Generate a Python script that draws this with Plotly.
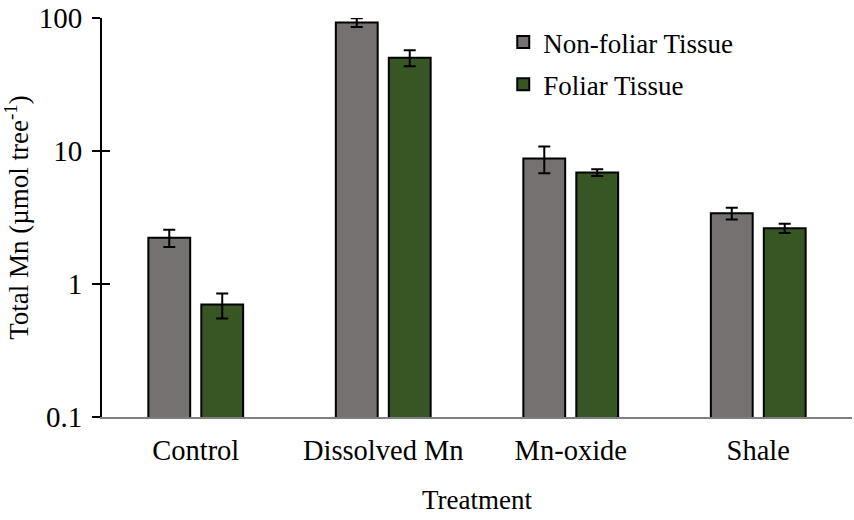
import plotly.graph_objects as go

categories = ["Control", "Dissolved Mn", "Mn-oxide", "Shale"]
nonfoliar = [2.23, 92.7, 8.8, 3.4]
nonfoliar_err = [0.33, 7.0, 2.0, 0.35]
foliar = [0.70, 50.3, 6.9, 2.63]
foliar_err = [0.15, 7.0, 0.4, 0.21]
ytick_vals = [0.1, 1, 10, 100]
ytick_text = ["0.1", "1", "10", "100"]

FONT = "Liberation Serif"
FS = 27
GRAY = "#767171"
GREEN = "#375623"

fig = go.Figure()
fig.add_trace(go.Bar(
    name="Non-foliar Tissue", x=categories, y=nonfoliar, legendgroup="a",
    marker=dict(color=GRAY, line=dict(color="black", width=2)),
    error_y=dict(type="data", array=nonfoliar_err, color="black", thickness=2, width=6),
))
fig.add_trace(go.Bar(
    name="Foliar Tissue", x=categories, y=foliar, legendgroup="b",
    marker=dict(color=GREEN, line=dict(color="black", width=2)),
    error_y=dict(type="data", array=foliar_err, color="black", thickness=2, width=6),
))
# invisible trace for inside ticks (crossing tick marks)
fig.add_trace(go.Scatter(x=categories, y=nonfoliar, yaxis="y2", mode="markers",
                         marker=dict(opacity=0), showlegend=False, hoverinfo="skip"))

fig.update_layout(
    width=854, height=520,
    margin=dict(l=102, r=2, t=18, b=103),
    paper_bgcolor="white", plot_bgcolor="white",
    font=dict(family=FONT, size=FS, color="black"),
    barmode="group", bargap=0.435, bargroupgap=0.21,
    legend=dict(x=0.535, y=1.0, xanchor="left", yanchor="top",
                bgcolor="rgba(0,0,0,0)", font=dict(family=FONT, size=FS),
                itemwidth=30, tracegroupgap=4),
    xaxis=dict(
        showline=True, linecolor="#7f7f7f", linewidth=2, ticks="",
        tickfont=dict(family=FONT, size=28.5), ticklabelstandoff=7,
        title=dict(text="Treatment", font=dict(family=FONT, size=FS), standoff=25),
        showgrid=False, zeroline=False,
    ),
    yaxis=dict(
        type="log", range=[-1, 2], showline=True, linecolor="black", linewidth=2,
        ticks="outside", ticklen=8, tickwidth=2, tickcolor="black",
        tickvals=ytick_vals, ticktext=ytick_text, ticklabelstandoff=4,
        tickfont=dict(family=FONT, size=29),
        title=dict(text="Total Mn (µmol tree<sup>-1</sup>)", font=dict(family=FONT, size=FS), standoff=8),
        showgrid=False, zeroline=False,
    ),
    yaxis2=dict(
        type="log", range=[-1, 2], overlaying="y", side="left", anchor="x",
        ticks="inside", ticklen=8, tickwidth=2, tickcolor="black",
        tickvals=ytick_vals, showticklabels=False, showgrid=False, zeroline=False,
        showline=False,
    ),
)

fig.write_html("out.html")
